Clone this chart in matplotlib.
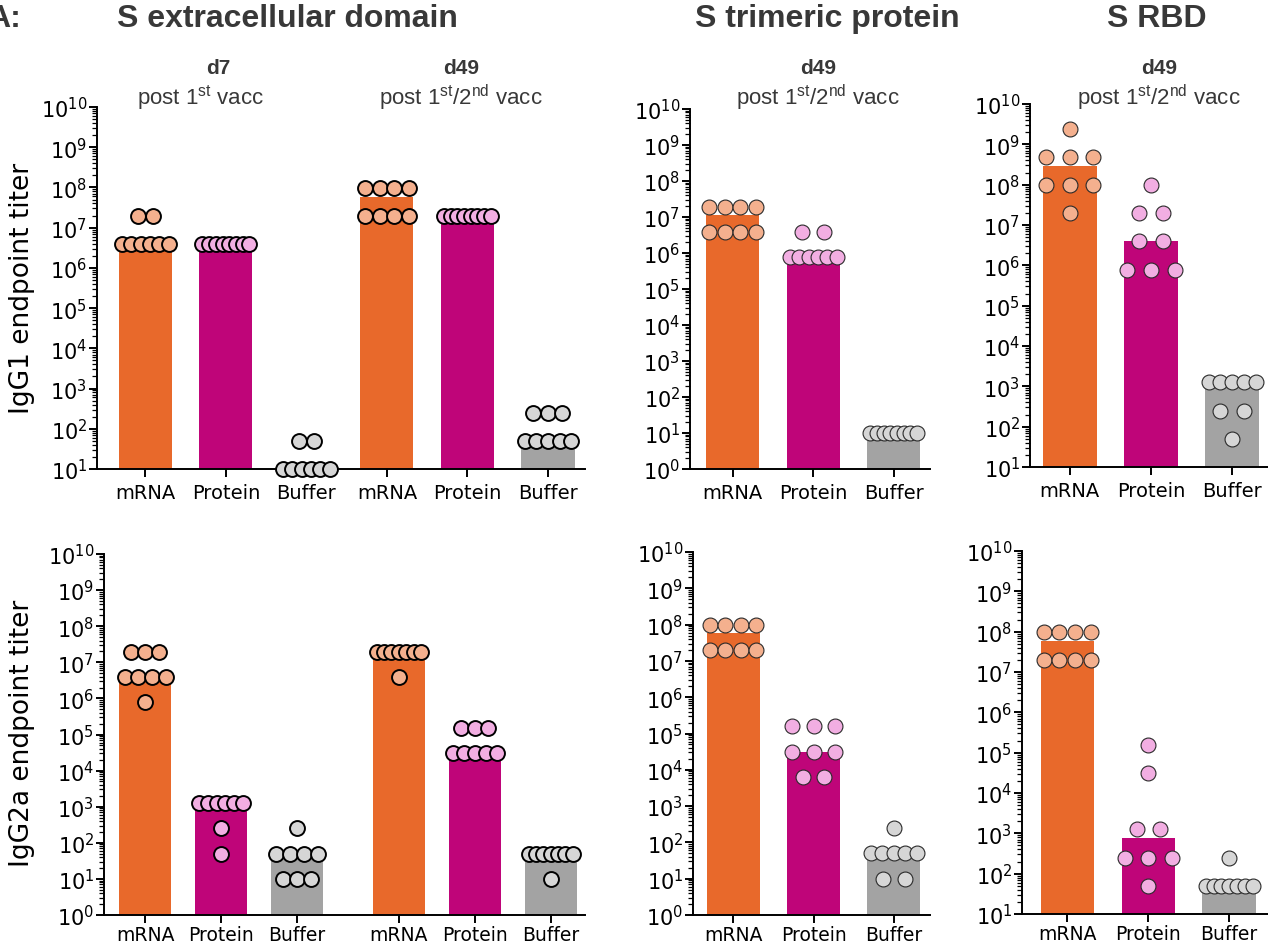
import matplotlib
matplotlib.use("Agg")
import matplotlib.pyplot as plt
import numpy as np
from matplotlib.ticker import FixedLocator, LogLocator, NullFormatter

W, H = 1268, 953

groups = ["mRNA", "Protein", "Buffer"]

# IgG1 endpoint titers, S extracellular domain (d7 and d49)
ecd_g1_d7_mrna = [1.95e7, 1.95e7, 3.9e6, 3.9e6, 3.9e6, 3.9e6, 3.9e6, 3.9e6]
ecd_g1_d7_protein = [3.9e6, 3.9e6, 3.9e6, 3.9e6, 3.9e6, 3.9e6, 3.9e6, 3.9e6]
ecd_g1_d7_buffer = [50, 50, 10, 10, 10, 10, 10, 10]
ecd_g1_d49_mrna = [9.8e7, 9.8e7, 9.8e7, 9.8e7, 1.95e7, 1.95e7, 1.95e7, 1.95e7]
ecd_g1_d49_protein = [1.95e7, 1.95e7, 1.95e7, 1.95e7, 1.95e7, 1.95e7, 1.95e7, 1.95e7]
ecd_g1_d49_buffer = [250, 250, 250, 50, 50, 50, 50, 50]

# IgG1, S trimeric protein (d49)
tri_g1_mrna = [1.95e7, 1.95e7, 1.95e7, 1.95e7, 3.9e6, 3.9e6, 3.9e6, 3.9e6]
tri_g1_protein = [3.9e6, 3.9e6, 7.8e5, 7.8e5, 7.8e5, 7.8e5, 7.8e5, 7.8e5]
tri_g1_buffer = [10, 10, 10, 10, 10, 10, 10, 10]

# IgG1, S RBD (d49)
rbd_g1_mrna = [2.4e9, 4.9e8, 4.9e8, 4.9e8, 9.8e7, 9.8e7, 9.8e7, 1.95e7]
rbd_g1_protein = [9.8e7, 1.95e7, 1.95e7, 3.9e6, 3.9e6, 7.8e5, 7.8e5, 7.8e5]
rbd_g1_buffer = [1250, 1250, 1250, 1250, 1250, 250, 250, 50]

# IgG2a, S extracellular domain (d7 and d49)
ecd_g2_d7_mrna = [1.95e7, 1.95e7, 1.95e7, 3.9e6, 3.9e6, 3.9e6, 3.9e6, 7.8e5]
ecd_g2_d7_protein = [1250, 1250, 1250, 1250, 1250, 1250, 250, 50]
ecd_g2_d7_buffer = [250, 50, 50, 50, 50, 10, 10, 10]
ecd_g2_d49_mrna = [1.95e7, 1.95e7, 1.95e7, 1.95e7, 1.95e7, 1.95e7, 1.95e7, 3.9e6]
ecd_g2_d49_protein = [1.56e5, 1.56e5, 1.56e5, 31250, 31250, 31250, 31250, 31250]
ecd_g2_d49_buffer = [50, 50, 50, 50, 50, 50, 50, 10]

# IgG2a, S trimeric protein (d49)
tri_g2_mrna = [9.8e7, 9.8e7, 9.8e7, 9.8e7, 1.95e7, 1.95e7, 1.95e7, 1.95e7]
tri_g2_protein = [1.56e5, 1.56e5, 1.56e5, 31250, 31250, 31250, 6250, 6250]
tri_g2_buffer = [250, 50, 50, 50, 50, 50, 10, 10]

# IgG2a, S RBD (d49)
rbd_g2_mrna = [9.8e7, 9.8e7, 9.8e7, 9.8e7, 1.95e7, 1.95e7, 1.95e7, 1.95e7]
rbd_g2_protein = [1.56e5, 31250, 1250, 1250, 250, 250, 250, 50]
rbd_g2_buffer = [250, 50, 50, 50, 50, 50, 50, 50]

BAR_COLORS = {"mRNA": "#E8692B", "Protein": "#BF0579", "Buffer": "#A3A3A3"}
DOT_COLORS = {"mRNA": "#F4B08E", "Protein": "#F2AEE2", "Buffer": "#D6D6D6"}
TEXT_GRAY = "#383838"

plt.rcParams["font.family"] = "DejaVu Sans"

fig = plt.figure(figsize=(W / 100, H / 100), dpi=100)


def add_panel(x0, x1, ytop, ybot):
    # axes placed in pixel coordinates of the figure
    return fig.add_axes([x0 / W, 1 - ybot / H, (x1 - x0) / W, (ybot - ytop) / H])


def swarm_x(values, center, gap, span=0.58):
    # spread repeated titers side by side, like a column scatter
    vals = np.asarray(values, dtype=float)
    xs = np.empty(len(vals))
    for v in np.unique(vals):
        idx = np.where(vals == v)[0]
        n = len(idx)
        step = min(gap, span / (n - 1)) if n > 1 else 0.0
        xs[idx] = center + (np.arange(n) - (n - 1) / 2) * step
    return xs


def draw_panel(ax, series, positions, ylo, xlim, width=0.66, gap=0.27,
               edge_lw=0.8, edge_color="#2a2a2a", xlabel_size=14, xpad=4):
    for (label, vals), x in zip(series, positions):
        med = np.median(vals)
        ax.bar(x, med - ylo, bottom=ylo, width=width,
               color=BAR_COLORS[label], zorder=1)
        ax.scatter(swarm_x(vals, x, gap), vals, s=115, color=DOT_COLORS[label],
                   edgecolor=edge_color, linewidth=edge_lw, zorder=3,
                   clip_on=False)
    ax.set_yscale("log")
    ax.set_ylim(ylo, 1e10)
    ax.set_xlim(*xlim)
    # decade ticks only inside the visible range
    first_decade = int(round(np.log10(ylo)))
    ax.yaxis.set_major_locator(FixedLocator(10.0 ** np.arange(first_decade, 11)))
    ax.yaxis.set_minor_locator(LogLocator(base=10, subs=np.arange(2, 10) * 1.0,
                                          numticks=200))
    ax.yaxis.set_minor_formatter(NullFormatter())
    ax.set_xticks(positions)
    ax.set_xticklabels([lab for lab, _ in series])
    for side in ("top", "right"):
        ax.spines[side].set_visible(False)
    for side in ("left", "bottom"):
        ax.spines[side].set_linewidth(1.4)
    ax.tick_params(axis="y", which="major", length=6, width=1.4,
                   labelsize=15, pad=1)
    ax.tick_params(axis="y", which="minor", length=3.5, width=0.9)
    ax.tick_params(axis="x", length=6, width=1.4, labelsize=xlabel_size,
                   pad=xpad)
    ax.patch.set_alpha(0)


# top row: IgG1
ax = add_panel(97, 585, 108, 470)
draw_panel(ax,
           [("mRNA", ecd_g1_d7_mrna), ("Protein", ecd_g1_d7_protein),
            ("Buffer", ecd_g1_d7_buffer), ("mRNA", ecd_g1_d49_mrna),
            ("Protein", ecd_g1_d49_protein), ("Buffer", ecd_g1_d49_buffer)],
           [0, 1, 2, 3, 4, 5], 10, (-0.6, 5.46), gap=0.18,
           edge_lw=1.4, edge_color="black")

ax = add_panel(690, 930, 110, 470)
draw_panel(ax, list(zip(groups, [tri_g1_mrna, tri_g1_protein, tri_g1_buffer])),
           [0, 1, 2], 1, (-0.53, 2.45))

ax = add_panel(1030, 1268, 105, 468)
draw_panel(ax, list(zip(groups, [rbd_g1_mrna, rbd_g1_protein, rbd_g1_buffer])),
           [0, 1, 2], 10, (-0.49, 2.44), gap=0.29)

# bottom row: IgG2a
ax = add_panel(104, 585, 555, 916)
draw_panel(ax,
           [("mRNA", ecd_g2_d7_mrna), ("Protein", ecd_g2_d7_protein),
            ("Buffer", ecd_g2_d7_buffer), ("mRNA", ecd_g2_d49_mrna),
            ("Protein", ecd_g2_d49_protein), ("Buffer", ecd_g2_d49_buffer)],
           [0, 1, 2, 3.34, 4.34, 5.34], 1, (-0.54, 5.79), width=0.69,
           gap=0.18, edge_lw=1.4, edge_color="black", xlabel_size=13.5, xpad=1.5)

ax = add_panel(693, 930, 553, 916)
draw_panel(ax, list(zip(groups, [tri_g2_mrna, tri_g2_protein, tri_g2_buffer])),
           [0, 1, 2], 1, (-0.5, 2.45), xlabel_size=13.5, xpad=1.5)

ax = add_panel(1022, 1268, 552, 915)
draw_panel(ax, list(zip(groups, [rbd_g2_mrna, rbd_g2_protein, rbd_g2_buffer])),
           [0, 1, 2], 10, (-0.56, 2.48), gap=0.29, xlabel_size=13.5, xpad=1.5)


def fig_text(x, y, s, **kw):
    fig.text(x / W, 1 - y / H, s, ha="center", va="center", **kw)


title_kw = dict(fontsize=23, fontweight="bold", family="Liberation Sans",
                color=TEXT_GRAY)
fig.text(21 / W, 1 - 19 / H, "A:", ha="right", va="center", **title_kw)
fig_text(287, 19, "S extracellular domain", **title_kw)
fig_text(827, 19, "S trimeric protein", **title_kw)
fig_text(1157, 19, "S RBD", **title_kw)

day_kw = dict(fontsize=15, fontweight="bold", family="Liberation Sans",
              color=TEXT_GRAY)
sub_kw = dict(fontsize=16, family="Liberation Sans", color=TEXT_GRAY)
first = r"post 1$^{\mathdefault{st}}$ vacc"
both = r"post 1$^{\mathdefault{st}}$/2$^{\mathdefault{nd}}$ vacc"
fig_text(218, 68, "d7", **day_kw)
fig_text(200, 98, first, **sub_kw)
for x in (461, 818, 1159):
    fig_text(x, 68, "d49", **day_kw)
    fig_text(x, 98, both, **sub_kw)

fig_text(22, 288, "IgG1 endpoint titer", rotation=90, fontsize=19)
fig_text(22, 733, "IgG2a endpoint titer", rotation=90, fontsize=19)

fig.savefig("out.png", dpi=100)
